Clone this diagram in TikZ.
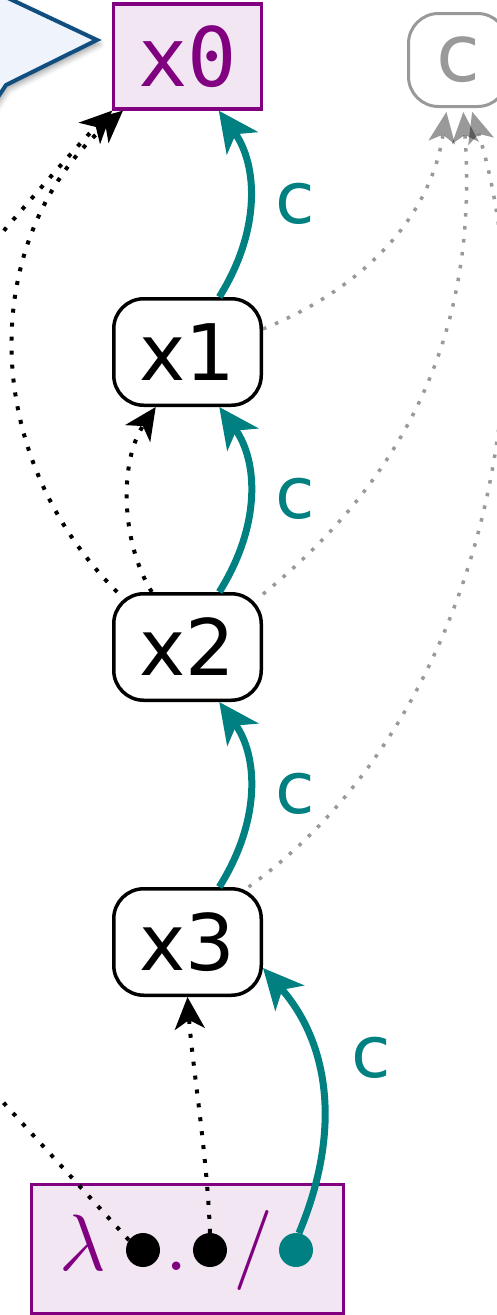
\documentclass[tikz,border=0pt]{standalone}
\usepackage{fontspec}
\setmainfont{DejaVu Sans}
\setmonofont{DejaVu Sans Mono}
\usetikzlibrary{arrows.meta,calc,shadows.blur}

% Computer Modern glyphs for the lambda term, at display size
\font\lamital=cmmi10 at 80pt
\font\lamroman=cmr10 at 80pt

\definecolor{lampurple}{RGB}{128,0,128}
\definecolor{lamfill}{RGB}{242,230,242}
\definecolor{lamteal}{RGB}{0,128,128}
\definecolor{protofill}{RGB}{238,243,252}
\definecolor{protoedge}{RGB}{16,78,128}

\tikzset{
  varbox/.style={draw=black, line width=3.5pt, rounded corners=30pt,
    minimum width=147.5pt, minimum height=106.5pt, inner sep=0pt,
    font=\fontsize{78}{80}\selectfont},
  ghostbox/.style={draw=black!40, text=black!40, line width=3pt, rounded corners=30pt,
    minimum width=99pt, minimum height=93pt, inner sep=0pt,
    font=\fontsize{80}{82}\selectfont},
  headbox/.style={draw=lampurple, fill=lamfill, text=lampurple, line width=3.3pt,
    minimum width=147.5pt, minimum height=105pt, inner sep=0pt,
    font=\ttfamily\fontsize{82}{84}\selectfont},
  lambox/.style={draw=lampurple, fill=lamfill, line width=3pt,
    minimum width=312pt, minimum height=129pt, inner sep=0pt},
  hole/.style={circle, minimum size=34pt, inner sep=0pt},
  sym/.style={text=lampurple, inner sep=0pt, anchor=base},
  ctor/.style={draw=lamteal, line width=7pt,
    -{Stealth[length=40pt, width=38pt, inset=11pt]}},
  clabel/.style={text=lamteal, inner sep=0pt, font=\fontsize{72}{74}\selectfont},
  ref/.style={draw=black, line width=4pt, dash pattern=on 4pt off 10pt,
    -{Stealth[length=32pt, width=30pt, inset=9pt]}},
  ghost/.style={draw=black, opacity=0.4, line width=3.5pt,
    dash pattern=on 3.5pt off 9.5pt,
    -{Stealth[length=31pt, width=27pt, inset=8pt, line width=0pt]}, shorten >=4pt},
}

\begin{document}
\begin{tikzpicture}[x=1pt,y=-1pt]
\useasboundingbox (0,0) rectangle (497,1315);
\clip (0,0) rectangle (497,1315);

% pointer shape entering from the left
\path[draw=protoedge, fill=protofill, line width=4pt, line join=miter,
  blur shadow={shadow xshift=2pt, shadow yshift=-4pt, shadow blur radius=6pt, shadow opacity=40}]
  (-60,-34) -- (97,40) -- (6,85) -- (-12,112) -- (-60,112) -- cycle;

% variable nodes
\node[headbox] (x0) at (187.5,56.5) {x0};
\node[varbox] (x1) at (187.5,352) {x1};
\node[varbox] (x2) at (187.5,647) {x2};
\node[varbox] (x3) at (187.5,942) {x3};
\node[ghostbox] (c) at (458,60) {c};

% lambda term with its holes
\node[lambox] (lam) at (187.5,1249) {};
\node[sym] (lamsym) at (83,1270) {\lamital\char"15};
\node[hole, fill=black] (h1) at (143,1250) {};
\node[sym] (lamdot) at (177,1270) {\lamroman.};
\node[hole, fill=black] (h2) at (210,1250) {};
\node[sym] (lamslash) at (253,1270) {\lamroman/};
\node[hole, fill=lamteal] (h3) at (296,1250) {};

\coordinate (outA) at (-60,305);
\coordinate (outB) at (-40,1055);

% continuation arrows
\draw[ctor] (x1.60) .. controls +(42,-67) and +(39,54) .. (x0.-60);
\draw[ctor] (x2.60) .. controls +(42,-67) and +(39,54) .. (x1.-60);
\draw[ctor] (x3.60) .. controls +(42,-67) and +(39,54) .. (x2.-60);
\draw[ctor] (h3.80) .. controls +(46,-110) and +(62,70) .. (x3.-19);

\node[clabel] (k1) at (295,204) {c};
\node[clabel] (k2) at (295,499) {c};
\node[clabel] (k3) at (295,794) {c};
\node[clabel] (k4) at (371,1058) {c};

% references
\draw[ref] (x2.123) .. controls +(-32,-52) and +(-36,53) .. (x1.-120);
\draw[ref] (x2.142) .. controls +(-142,-142) and +(-142,123) .. (x0.220);
\draw[ref] (outA) .. controls +(60,-70) and +(-40,40) .. (x0.south west);
\draw[ref] (h2.north) .. controls +(-3,-80) and +(5,70) .. (x3.south);
\draw[ref, -] (h1.145) -- (outB);

% links to the ghost continuation
\draw[ghost] (x1.17) .. controls +(97,-39) and +(-17,112) .. ($(c.south)+(-11,0)$);
\draw[ghost] (x2.35) .. controls +(152,-124) and +(15,212) .. ($(c.south)+(5,0)$);
\draw[ghost] (x3.42) .. controls +(231.5,-167) and +(79,262) .. ($(c.south)+(13,0)$);
\end{tikzpicture}
\end{document}
